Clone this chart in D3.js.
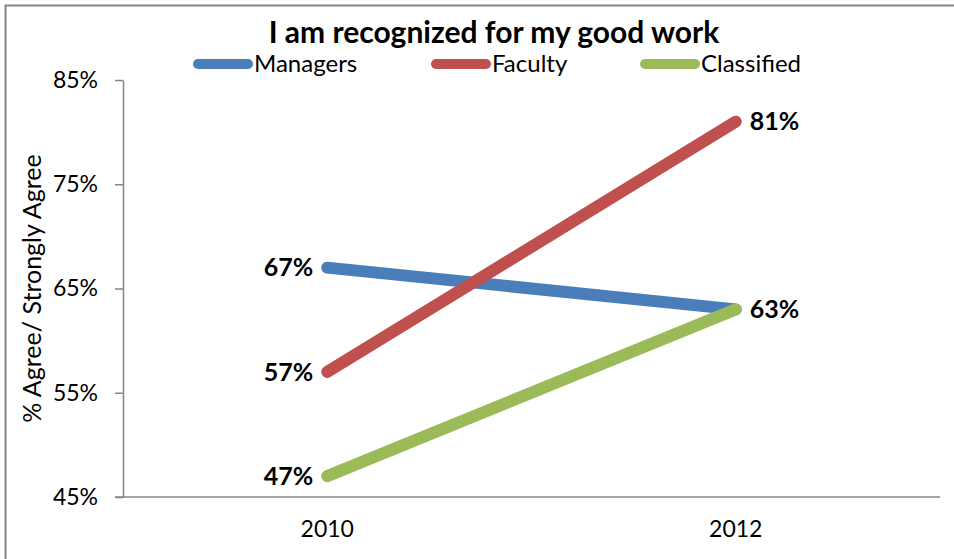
<!DOCTYPE html>
<html>
<head>
<meta charset="utf-8">
<script src="https://cdn.jsdelivr.net/npm/d3@7"></script>
<style>
  html, body { margin: 0; padding: 0; background: #fff; }
  svg { display: block; font-family: Lato, "Open Sans", sans-serif; }
</style>
</head>
<body>
<svg id="chart" width="954" height="559"></svg>
<script>
// Survey item and series
const title = "I am recognized for my good work";
const years = ["2010", "2012"];
const seriesNames = ["Managers", "Faculty", "Classified"];
const managers = [67, 63];
const faculty = [57, 81];
const classified = [47, 63];
const seriesColors = ["#4A7EBB", "#C0504D", "#9BBB59"];
const yTicks = [45, 55, 65, 75, 85];
const yLabel = "% Agree/ Strongly Agree";

const series = [managers, faculty, classified].map((vals, i) => ({
  name: seriesNames[i],
  color: seriesColors[i],
  values: vals.map((v, j) => ({ year: years[j], value: v }))
}));

const svg = d3.select("#chart");
const W = 954, H = 559;
const plot = { left: 123, right: 940, top: 80, bottom: 497 };

// Outer chart frame
svg.append("rect")
  .attr("x", 5.5).attr("y", 5.5)
  .attr("width", W + 10).attr("height", H + 10)
  .attr("fill", "#fff").attr("stroke", "#868686").attr("stroke-width", 2);

const x = d3.scaleBand().domain(years).range([plot.left, plot.right]);
const y = d3.scaleLinear().domain([45, 85]).range([plot.bottom, plot.top]);
const cx = d => x(d) + x.bandwidth() / 2;

// Y axis
const yAxis = svg.append("g")
  .attr("transform", `translate(${plot.left},0)`)
  .call(d3.axisLeft(y).tickValues(yTicks).tickSize(8).tickSizeOuter(0).tickPadding(17)
    .tickFormat(d => d + "%"));
yAxis.select(".domain").attr("stroke", "#868686").attr("stroke-width", 1.5);
yAxis.selectAll(".tick line").attr("stroke", "#868686").attr("stroke-width", 1.5);
yAxis.selectAll(".tick text").attr("font-size", 23).attr("fill", "#000")
  .attr("font-family", "Lato, sans-serif");

// X axis
const xAxis = svg.append("g")
  .attr("transform", `translate(0,${plot.bottom})`)
  .call(d3.axisBottom(x).tickSize(0).tickPadding(24));
xAxis.select(".domain").attr("stroke", "#868686").attr("stroke-width", 1.5)
  .attr("d", `M${plot.left - 8},0H${plot.right}`);
xAxis.selectAll(".tick text").attr("font-size", 23).attr("fill", "#000")
  .attr("font-family", "Lato, sans-serif");

// Y axis title
svg.append("text")
  .attr("transform", `translate(41,${(plot.top + plot.bottom) / 2}) rotate(-90)`)
  .attr("text-anchor", "middle")
  .attr("font-size", 25)
  .text(yLabel);

// Title
svg.append("text")
  .attr("x", 494).attr("y", 43)
  .attr("text-anchor", "middle")
  .attr("font-size", 30).attr("font-weight", "bold")
  .text(title);

// Lines
const line = d3.line().x(d => cx(d.year)).y(d => y(d.value));
svg.append("g").selectAll("path")
  .data(series)
  .join("path")
  .attr("d", d => line(d.values))
  .attr("fill", "none")
  .attr("stroke", d => d.color)
  .attr("stroke-width", 12)
  .attr("stroke-linecap", "round");

// Value labels
const labels = svg.append("g");
series.forEach(s => {
  s.values.forEach((d, j) => {
    if (s.name === "Managers" && j === 1) return; // shares the 63% point with Classified
    labels.append("text")
      .attr("x", j === 0 ? cx(d.year) - 14 : cx(d.year) + 14)
      .attr("y", y(d.value))
      .attr("dy", "0.35em")
      .attr("text-anchor", j === 0 ? "end" : "start")
      .attr("font-size", 25).attr("font-weight", "bold")
      .text(d.value + "%");
  });
});

// Legend
const legendX = [193, 431, 640];
const legend = svg.append("g");
series.forEach((s, i) => {
  const g = legend.append("g").attr("transform", `translate(${legendX[i]},64)`);
  g.append("line")
    .attr("x1", 5).attr("x2", 55).attr("y1", 0).attr("y2", 0)
    .attr("stroke", s.color).attr("stroke-width", 10).attr("stroke-linecap", "round");
  g.append("text")
    .attr("x", 61).attr("y", 0).attr("dy", "0.35em")
    .attr("font-size", 24)
    .text(s.name);
});
</script>
</body>
</html>
